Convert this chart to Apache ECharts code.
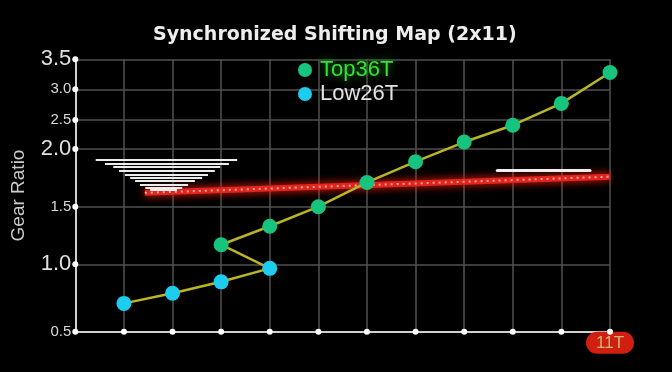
<!DOCTYPE html>
<html>
<head>
<meta charset="utf-8">
<script src="https://cdn.jsdelivr.net/npm/echarts@6/dist/echarts.min.js"></script>
<style>html,body{margin:0;padding:0;background:#000;}#c{width:672px;height:372px;}</style>
</head>
<body>
<div id="c"></div>
<script>
// ---- data ----
const cogPositions = [1, 2, 3, 4, 5, 6, 7, 8, 9, 10, 11];
const lastCogLabel = '11T';
const lowX = [1, 2, 3, 4];
const lowRatio = [0.71, 0.785, 0.87, 0.97];
const topX = [3, 4, 5, 6, 7, 8, 9, 10, 11];
const topRatio = [1.17, 1.33, 1.5, 1.71, 1.89, 2.12, 2.41, 2.77, 3.28];
const yTickValues = [0.5, 1.0, 1.5, 2.0, 2.5, 3.0, 3.5];
const yTickBig = [false, true, false, true, false, false, true];
const syncX = [1.43, 11];
const syncRatio = [1.62, 1.76];
// front ring stack: [xStart, xEnd, ratio]
const ringStack = [
  [0.42, 3.33, 1.905], [0.61, 3.16, 1.876], [0.78, 2.98, 1.844], [0.90, 2.87, 1.812],
  [1.02, 2.73, 1.781], [1.13, 2.61, 1.751], [1.23, 2.46, 1.723], [1.33, 2.32, 1.694],
  [1.44, 2.20, 1.665], [1.54, 2.09, 1.645]
];
const rearMark = [[8.68, 10.59, 1.812]];

// ---- nonuniform ratio scale (axis position units) ----
const tickPos = [0, 67.4, 125, 182.7, 211.7, 242.4, 272.4];
function yPos(v) {
  for (let i = 0; i < yTickValues.length - 1; i++) {
    if (v <= yTickValues[i + 1] || i === yTickValues.length - 2) {
      const t = (v - yTickValues[i]) / (yTickValues[i + 1] - yTickValues[i]);
      return tickPos[i] + t * (tickPos[i + 1] - tickPos[i]);
    }
  }
}

const chart = echarts.init(document.getElementById('c'), null, {renderer: 'canvas'});
const FONT = 'Liberation Sans';

const pathData = lowX.map((x, i) => [x, yPos(lowRatio[i])])
  .concat(topX.map((x, i) => [x, yPos(topRatio[i])]));

const axisDots = yTickValues.map(v => [0, yPos(v)])
  .concat(cogPositions.map(c => [c, 0]));

const option = {
  backgroundColor: '#000',
  animation: false,
  title: {
    text: 'Synchronized Shifting Map (2x11)',
    left: 148,
    top: 21,
    textStyle: {color: '#eeeeee', fontSize: 19, fontWeight: 'bold', fontFamily: 'DejaVu Sans'}
  },
  legend: {
    orient: 'vertical',
    left: 293,
    top: 54,
    itemWidth: 14,
    itemHeight: 14,
    itemGap: 2,
    icon: 'circle',
    itemStyle: {opacity: 1},
    data: [
      {name: 'Top36T', textStyle: {color: '#36e036', textShadowColor: '#1aa01a', textShadowBlur: 8}},
      {name: 'Low26T', textStyle: {color: '#e2e2e2'}}
    ],
    textStyle: {fontSize: 22, fontFamily: FONT, lineHeight: 21, padding: [0, 0, 0, 3]}
  },
  grid: {left: 75.3, right: 62, top: 59.3, bottom: 40.3, containLabel: false},
  xAxis: {
    type: 'value',
    min: 0,
    max: 11,
    interval: 1,
    axisLine: {show: true, lineStyle: {color: '#d0d0d0', width: 2}},
    axisTick: {show: false},
    splitLine: {show: true, lineStyle: {color: '#505050', width: 1.5}},
    axisLabel: {
      show: true,
      margin: 0,
      formatter: v => (v === cogPositions[cogPositions.length - 1] ? '{t|' + lastCogLabel + '}' : ''),
      rich: {
        t: {
          color: '#c8b67a', fontSize: 17, fontFamily: FONT,
          backgroundColor: '#d01e10', borderRadius: 12, padding: [3, 10, 2, 10]
        }
      }
    }
  },
  yAxis: {
    type: 'value',
    min: 0,
    max: tickPos[tickPos.length - 1],
    name: 'Gear Ratio',
    nameLocation: 'middle',
    nameRotate: 90,
    nameGap: 47,
    nameTextStyle: {color: '#cccccc', fontSize: 19, fontFamily: FONT},
    axisLine: {show: true, lineStyle: {color: '#d0d0d0', width: 2}},
    axisTick: {show: false, customValues: tickPos},
    splitLine: {show: true, lineStyle: {color: '#505050', width: 1.5}},
    axisLabel: {
      customValues: tickPos,
      margin: 4,
      formatter: function (v) {
        let idx = 0, best = 1e9;
        tickPos.forEach((p, i) => { if (Math.abs(p - v) < best) { best = Math.abs(p - v); idx = i; } });
        const s = yTickValues[idx].toFixed(1);
        return yTickBig[idx] ? '{b|' + s + '}' : '{s|' + s + '}';
      },
      rich: {
        b: {color: '#e0e0e0', fontSize: 22, fontFamily: FONT},
        s: {color: '#d8d8d8', fontSize: 15, fontFamily: FONT}
      }
    }
  },
  series: [
    {
      name: 'sync',
      type: 'line',
      data: syncX.map((x, i) => [x, yPos(syncRatio[i])]),
      symbol: 'none',
      silent: true,
      lineStyle: {color: '#e3241c', width: 6, shadowColor: '#ff2010', shadowBlur: 8},
      z: 2
    },
    {
      name: 'syncDots',
      type: 'line',
      data: syncX.map((x, i) => [x, yPos(syncRatio[i])]),
      symbol: 'none',
      silent: true,
      lineStyle: {color: '#ffc0b8', width: 2, type: [2, 4], opacity: 0.85},
      z: 3
    },
    {
      name: 'ring',
      type: 'lines',
      coordinateSystem: 'cartesian2d',
      silent: true,
      data: ringStack.map(r => ({coords: [[r[0], yPos(r[2])], [r[1], yPos(r[2])]]})),
      lineStyle: {color: '#ececec', width: 2, opacity: 1, curveness: 0},
      z: 4
    },
    {
      name: 'rear',
      type: 'lines',
      coordinateSystem: 'cartesian2d',
      silent: true,
      data: rearMark.map(r => ({coords: [[r[0], yPos(r[2])], [r[1], yPos(r[2])]]})),
      lineStyle: {color: '#f0f0f0', width: 3, opacity: 1, curveness: 0, cap: 'round'},
      z: 4
    },
    {
      name: 'path',
      type: 'line',
      data: pathData,
      symbol: 'none',
      silent: true,
      lineStyle: {color: '#b8b526', width: 2.5},
      z: 5
    },
    {
      name: 'axisDots',
      type: 'scatter',
      data: axisDots,
      symbol: 'circle',
      symbolSize: 6,
      silent: true,
      clip: false,
      itemStyle: {color: '#ffffff', opacity: 1},
      z: 6
    },
    {
      name: 'Top36T',
      type: 'scatter',
      data: topX.map((x, i) => [x, yPos(topRatio[i])]),
      symbolSize: 15,
      itemStyle: {color: '#17c47e', opacity: 1},
      z: 7
    },
    {
      name: 'Low26T',
      type: 'scatter',
      data: lowX.map((x, i) => [x, yPos(lowRatio[i])]),
      symbolSize: 15,
      itemStyle: {color: '#1ccdf0', opacity: 1},
      z: 7
    }
  ]
};
chart.setOption(option);
</script>
</body>
</html>
